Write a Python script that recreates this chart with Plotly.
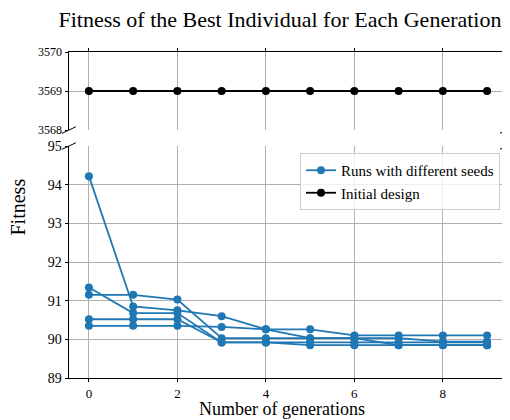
import plotly.graph_objects as go

generations = list(range(10))
run_a = [94.22, 90.85, 90.75, 90.60, 90.26, 90.26, 90.10, 90.10, 90.10, 90.10]
run_b = [91.34, 90.68, 90.68, 89.92, 89.92, 89.85, 89.85, 89.85, 89.85, 89.85]
run_c = [91.15, 91.15, 91.03, 90.03, 90.03, 90.03, 90.03, 89.85, 89.85, 89.85]
run_d = [90.35, 90.35, 90.35, 90.32, 90.26, 90.03, 90.03, 90.03, 89.94, 89.94]
run_e = [90.52, 90.52, 90.52, 89.92, 89.92, 89.92, 89.92, 89.92, 89.92, 89.92]
runs = [run_a, run_b, run_c, run_d, run_e]
initial_design = [3569] * 10

BLUE = "#1f77b4"
FONT = "'Liberation Serif', 'DejaVu Serif', 'Times New Roman', serif"

fig = go.Figure()
for i, r in enumerate(runs):
    fig.add_trace(go.Scatter(
        x=generations, y=r, mode="lines+markers", xaxis="x", yaxis="y",
        line=dict(color=BLUE, width=1.8), marker=dict(color=BLUE, size=8),
        name="Runs with different seeds", legendgroup="runs", showlegend=(i == 0)))
fig.add_trace(go.Scatter(
    x=generations, y=initial_design, mode="lines+markers", xaxis="x2", yaxis="y2",
    line=dict(color="black", width=1.8), marker=dict(color="black", size=8),
    name="Initial design"))

OFF = 8  # page body margin offset
W, H = 510 - OFF, 420 - OFF
ml, mr, mt, mb = 69 - OFF, 3, 52 - OFF, 42
pw, ph = W - ml - mr, H - mt - mb

def py(px):  # window pixel y -> paper y
    return (H - mb - (px - OFF)) / ph

def pxx(px):  # window pixel x -> paper x
    return (px - OFF - ml) / pw

grid = "#b0b0b0"
common = dict(showline=True, linecolor="black", linewidth=1, ticks="outside",
              tickcolor="black", showgrid=True, gridcolor=grid,
              gridwidth=1, zeroline=False)

fig.update_layout(
    width=W, height=H, margin=dict(l=ml, r=mr, t=mt, b=mb),
    plot_bgcolor="white", paper_bgcolor="white",
    font=dict(family=FONT, color="black"),
    title=dict(text="Fitness of the Best Individual for Each Generation",
               x=(280 - OFF) / W, xanchor="center", y=1 - (19 - OFF) / H, yanchor="middle",
               font=dict(size=22, family=FONT, color="black")),
    xaxis=dict(domain=[0, 1], anchor="y", range=[-0.45, 9.45], tickvals=[0, 2, 4, 6, 8],
               tickfont=dict(size=13, family=FONT), mirror=False, ticklen=3, **common),
    xaxis2=dict(domain=[0, 1], anchor="y2", matches="x", range=[-0.45, 9.45],
                tickvals=[0, 2, 4, 6, 8], side="top", showticklabels=False,
                mirror=False, ticklen=3.5, **common),
    yaxis=dict(domain=[0, py(146)], anchor="x", range=[89, 95],
               tickvals=[89, 90, 91, 92, 93, 94, 95], ticklen=3.5,
               tickfont=dict(size=14, family=FONT), mirror=True, **common),
    yaxis2=dict(domain=[py(130), 1], anchor="x2", range=[3568, 3570], ticklen=3.5,
                tickvals=[3568, 3569, 3570], tickfont=dict(size=12, family=FONT),
                mirror=True, **common),
    legend=dict(x=pxx(500), xanchor="right", y=py(153), yanchor="top",
                bgcolor="rgba(255,255,255,0.8)", bordercolor="#cccccc", borderwidth=1,
                font=dict(size=15, family=FONT), tracegroupgap=0),
    showlegend=True,
)

fig.add_annotation(text="Fitness", xref="paper", yref="paper", x=pxx(17.5), y=py(207),
                   textangle=-90, showarrow=False, font=dict(size=20, family=FONT),
                   xanchor="center", yanchor="middle")
fig.add_annotation(text="Number of generations", xref="paper", yref="paper",
                   x=pxx(282), y=py(420), showarrow=False, font=dict(size=18, family=FONT),
                   xanchor="center", yanchor="bottom", borderpad=0)

# break marks
dx, dy = 7 / pw, 3.3 / ph
for xp in (0, 1):
    for yp in (py(130), py(146)):
        fig.add_shape(type="line", xref="paper", yref="paper",
                      x0=xp - dx, y0=yp - dy, x1=xp + dx, y1=yp + dy,
                      line=dict(color="black", width=1))

fig.write_html("out.html")
